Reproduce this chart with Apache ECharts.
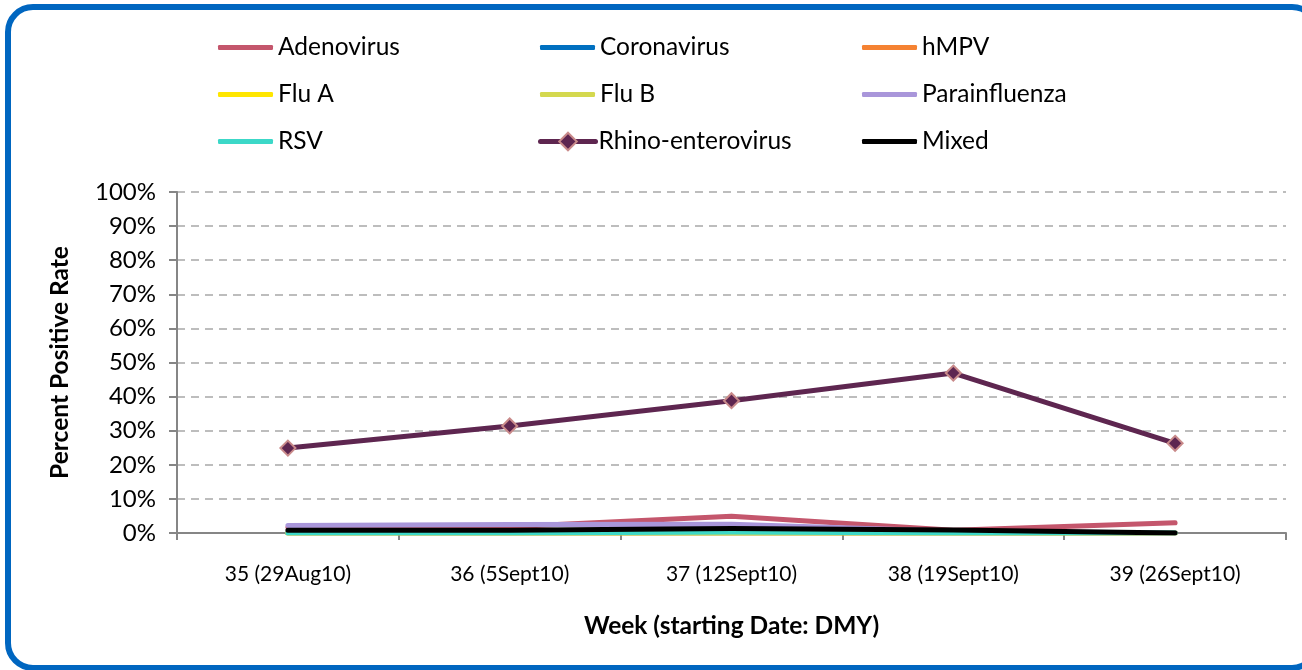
<!DOCTYPE html>
<html>
<head>
<meta charset="utf-8">
<script src="https://cdn.jsdelivr.net/npm/echarts@6/dist/echarts.min.js"></script>
<style>
  html, body { margin: 0; padding: 0; background: #fff; overflow: hidden; }
  #frame {
    position: absolute; left: 5px; top: 4px;
    width: 1303px; height: 655px;
    border: 6px solid #0066c0; border-radius: 28px;
  }
  #main { position: absolute; left: 0; top: 0; width: 1302px; height: 670px; }
</style>
</head>
<body>
<div id="frame"></div>
<div id="main"></div>
<script>
var weeks = ['35 (29Aug10)', '36 (5Sept10)', '37 (12Sept10)', '38 (19Sept10)', '39 (26Sept10)'];
var names = ['Adenovirus', 'Coronavirus', 'hMPV', 'Flu A', 'Flu B', 'Parainfluenza', 'RSV', 'Rhino-enterovirus', 'Mixed'];
var colors = ['#c4566c', '#0070c0', '#f58232', '#ffe600', '#d4d84e', '#a996da', '#3cd8c8', '#5e2650', '#000000'];

var adenovirus = [1.6, 1.8, 4.9, 0.8, 3.0];
var coronavirus = [0, 0, 0, 0, 0];
var hmpv = [0, 0, 0, 0, 0];
var fluA = [0, 0, 0, 0, 0];
var fluB = [0, 0, 0, 0, 0];
var parainfluenza = [2.2, 2.5, 2.6, 0.5, 0];
var rsv = [0, 0, 0.3, 0, 0];
var rhino = [24.9, 31.4, 38.8, 46.9, 26.3];
var mixed = [0.8, 0.8, 1.3, 0.9, 0];

var yTicks = [0, 10, 20, 30, 40, 50, 60, 70, 80, 90, 100];

var values = [adenovirus, coronavirus, hmpv, fluA, fluB, parainfluenza, rsv, rhino, mixed];

var font = 'Lato, "Open Sans", sans-serif';

var chart = echarts.init(document.getElementById('main'));

var series = names.map(function (n, i) {
  var isRhino = n === 'Rhino-enterovirus';
  return {
    name: n,
    type: 'line',
    data: values[i],
    color: colors[i],
    symbol: isRhino ? 'diamond' : 'none',
    symbolSize: 15,
    showSymbol: isRhino,
    lineStyle: { width: 5, color: colors[i], cap: 'round', join: 'round' },
    itemStyle: isRhino ? { color: '#5e2650', borderColor: '#c98a8a', borderWidth: 2 } : { color: colors[i] },
    animation: false,
    z: isRhino ? 3 : 2
  };
});

// legend laid out as a 3x3 grid, one legend per entry
var colLeft = [218, 540, 862];
var rowMid = [46, 93, 140];
var legends = names.map(function (n, i) {
  var isRhino = n === 'Rhino-enterovirus';
  var col = i % 3, row = Math.floor(i / 3);
  return {
    left: colLeft[col] - (isRhino ? 2 : 0),
    top: rowMid[row] - 11,
    padding: 0,
    itemWidth: 55,
    itemHeight: isRhino ? 22 : 5,
    icon: isRhino ? undefined : 'roundRect',
    lineStyle: { width: 5 },
    data: [n],
    textStyle: { fontFamily: font, fontSize: 24.5, color: '#000', padding: [0, 0, 0, isRhino ? -2 : 0] },
    selectedMode: false
  };
});

chart.setOption({
  animation: false,
  textStyle: { fontFamily: font },
  legend: legends,
  grid: { left: 177, right: 16, top: 192, bottom: 137, containLabel: false },
  xAxis: {
    type: 'category',
    data: weeks,
    name: 'Week (starting Date: DMY)',
    nameLocation: 'middle',
    nameGap: 81,
    nameTextStyle: { fontFamily: font, fontSize: 24.5, fontWeight: 'bold', color: '#000' },
    axisLine: { lineStyle: { color: '#868686', width: 2 } },
    axisTick: { show: true, length: 7, lineStyle: { color: '#868686', width: 2 } },
    axisLabel: { fontFamily: font, fontSize: 21, color: '#000', margin: 31 },
    splitLine: { show: false }
  },
  yAxis: {
    type: 'value',
    min: 0,
    max: 100,
    interval: 10,
    name: 'Percent Positive Rate',
    nameLocation: 'middle',
    nameGap: 104,
    nameTextStyle: { fontFamily: font, fontSize: 24.5, fontWeight: 'bold', color: '#000' },
    axisLine: { show: true, lineStyle: { color: '#868686', width: 2 } },
    axisTick: { show: true, length: 8, lineStyle: { color: '#868686', width: 2 } },
    axisLabel: {
      fontFamily: font, fontSize: 24, color: '#000', margin: 21,
      formatter: function (v) { return yTicks.indexOf(v) >= 0 ? v + '%' : ''; }
    },
    splitLine: { show: true, lineStyle: { color: '#a8a8a8', type: [8, 6], width: 1.5 } }
  },
  series: series
});
</script>
</body>
</html>
